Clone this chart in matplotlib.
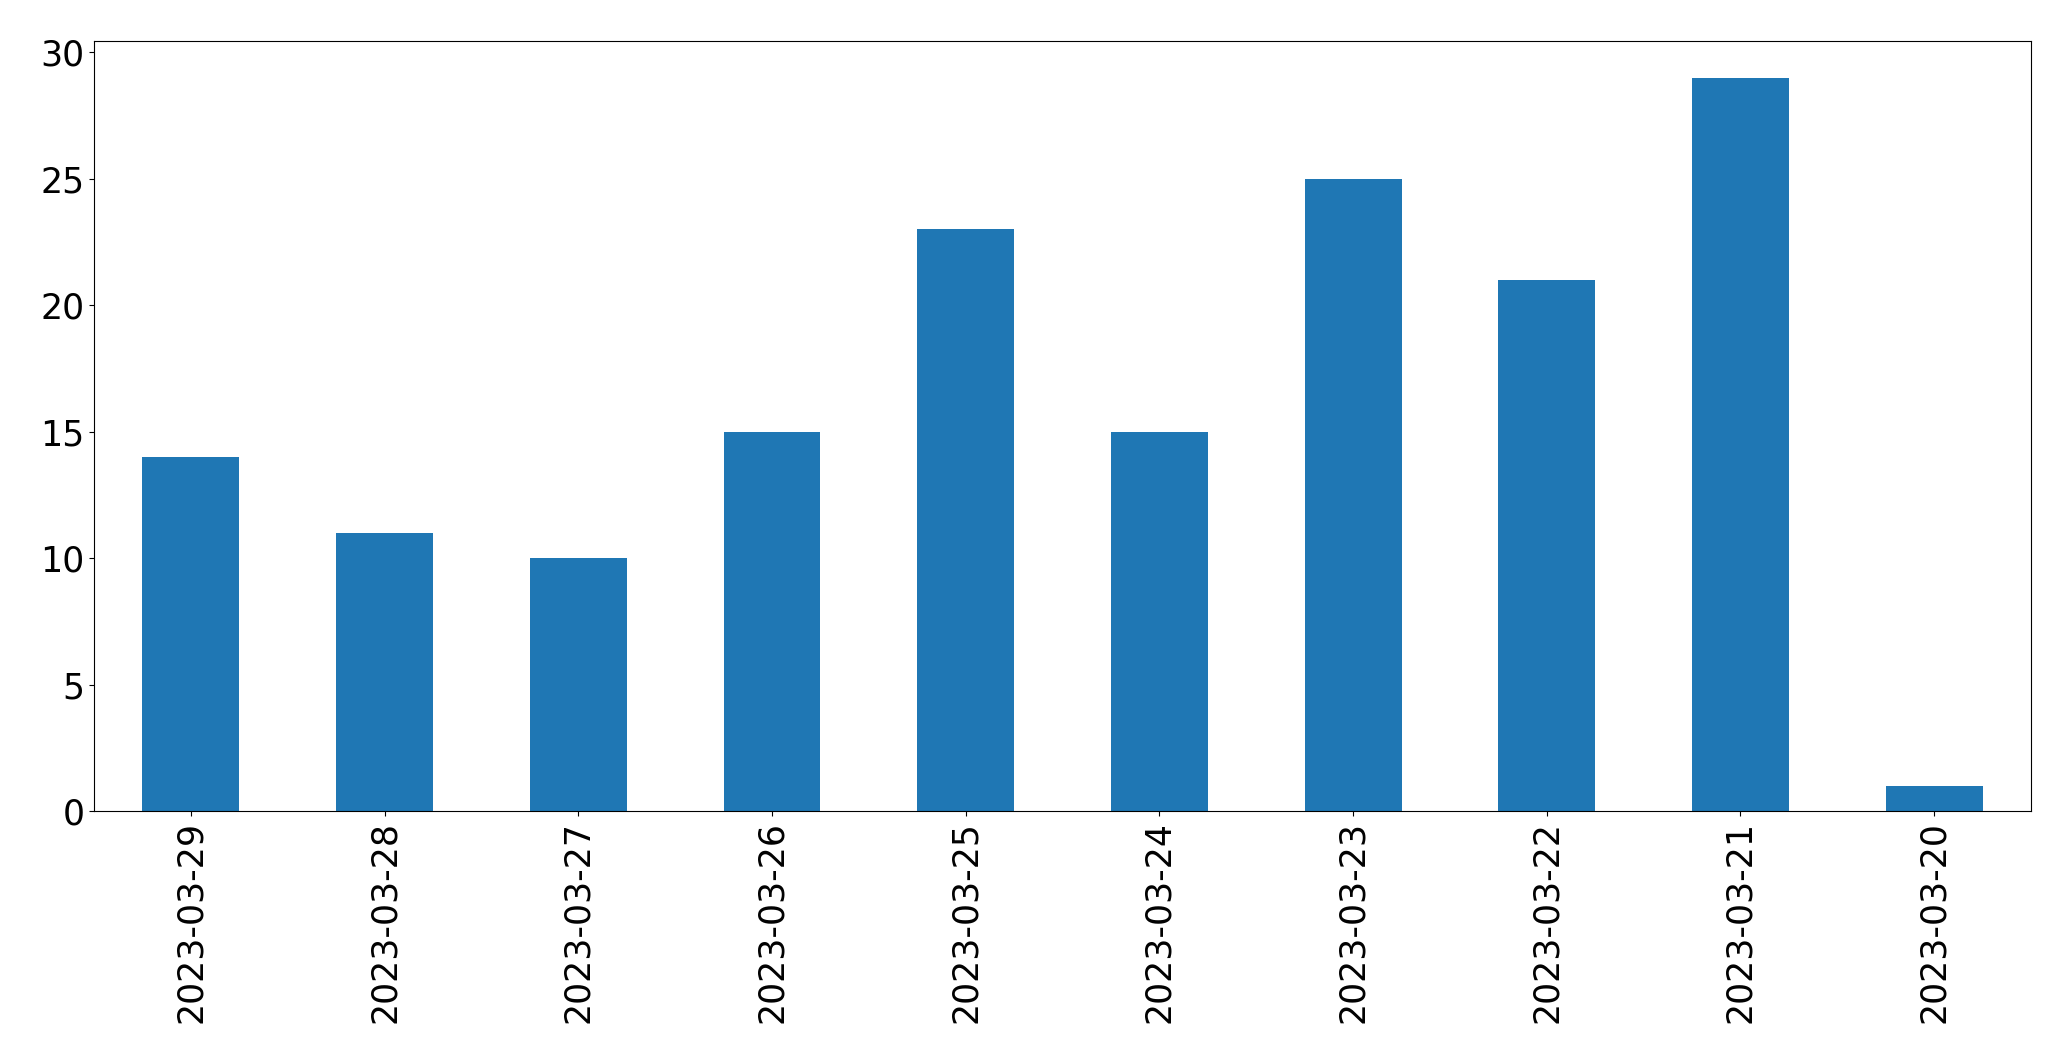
import matplotlib
matplotlib.use("Agg")
import matplotlib.pyplot as plt
import pandas as pd

dates = ["2023-03-29", "2023-03-28", "2023-03-27", "2023-03-26", "2023-03-25",
         "2023-03-24", "2023-03-23", "2023-03-22", "2023-03-21", "2023-03-20"]
counts = [14, 11, 10, 15, 23, 15, 25, 21, 29, 1]

s = pd.Series(counts, index=dates)

fig = plt.figure(figsize=(20.71, 10.63), dpi=100)
ax = fig.add_axes([0.0454, 0.2371, 0.9353, 0.7243])
s.plot(kind="bar", ax=ax, color="#1f77b4", width=0.5)
ax.tick_params(axis="both", labelsize=25)
for lab in ax.get_xticklabels():
    lab.set_rotation(90)
fig.savefig("out.png", dpi=100)
